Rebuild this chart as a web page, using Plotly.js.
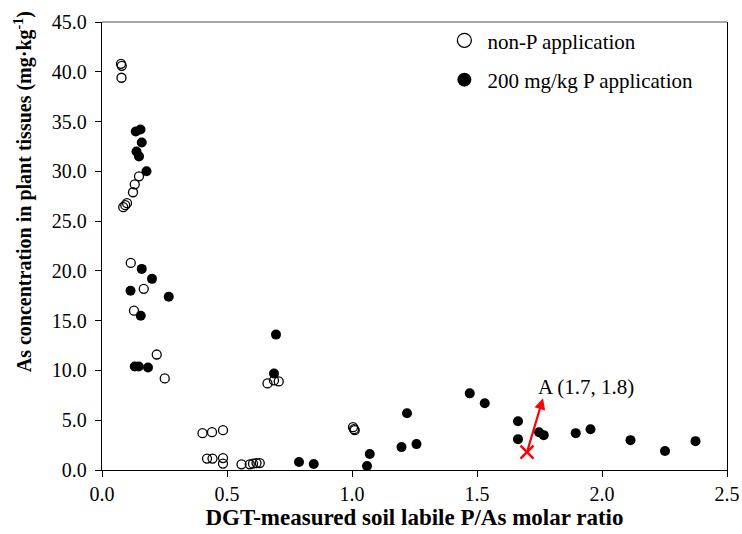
<!DOCTYPE html>
<html>
<head>
<meta charset="utf-8">
<script src="https://cdn.plot.ly/plotly-3.0.1.min.js"></script>
<style>html,body{margin:0;padding:0;background:#fff;}#chart{width:742px;height:534px;}</style>
</head>
<body>
<div id="chart"></div>
<script>
// non-P application (open circles)
var nonP_x = [0.076,0.079,0.078, 0.148,0.131,0.124, 0.085,0.093,0.100, 0.115,0.167,0.128,0.219,0.251,
              0.662,0.688,0.707, 0.402,0.440,0.484, 0.420,0.442,0.484,0.484,
              0.558,0.591,0.604,0.618,0.631, 1.004,1.008,1.011];
var nonP_y = [40.8,40.6,39.4, 29.5,28.7,27.9, 26.4,26.6,26.8, 20.8,18.2,16.0,11.6,9.2,
              8.7,9.0,8.9, 3.7,3.8,4.0, 1.15,1.15,1.2,0.65,
              0.57,0.57,0.64,0.7,0.7, 4.3,4.1,4.0];
// 200 mg/kg P application (filled circles)
var p200_x = [0.135,0.154,0.159,0.138,0.148,0.178, 0.159,0.200,0.114,0.267,0.155,
              0.131,0.147,0.184, 0.696,0.688, 0.788,0.847, 1.071,1.060,
              1.220,1.198,1.258, 1.471,1.531, 1.664,1.664,1.748,1.767,
              1.895,1.954, 2.114,2.252,2.374];
var p200_y = [34.0,34.2,32.9,32.0,31.5,30.0, 20.2,19.2,18.0,17.4,15.5,
              10.4,10.4,10.3, 13.6,9.7, 0.8,0.6, 1.6,0.4,
              5.7,2.3,2.6, 7.7,6.7, 4.9,3.1,3.8,3.5,
              3.7,4.1, 3.0,1.9,2.9];
// highlighted point A and its arrow tip
var pointA_x = [1.7];
var pointA_y = [1.8];
var arrowTip_x = 1.764;
var arrowTip_y = 7.2;
var pointA_label = 'A (1.7, 1.8)';

var seriesNames = ['non-P application', '200 mg/kg P application'];
var xTickVals = [0, 0.5, 1.0, 1.5, 2.0, 2.5];
var yTickVals = [0, 5, 10, 15, 20, 25, 30, 35, 40, 45];

var serif = "'Liberation Serif', 'Times New Roman', serif";

var traces = [
  {x: nonP_x, y: nonP_y, type: 'scatter', mode: 'markers', showlegend: false, cliponaxis: false,
   marker: {symbol: 'circle-open', size: 9, color: '#000', line: {width: 1.3, color: '#000'}}},
  {x: p200_x, y: p200_y, type: 'scatter', mode: 'markers', showlegend: false, cliponaxis: false,
   marker: {symbol: 'circle', size: 10, color: '#000'}},
  {x: pointA_x, y: pointA_y, type: 'scatter', mode: 'markers', showlegend: false,
   marker: {symbol: 'x-thin', size: 13, line: {width: 2.4, color: '#ff0000'}}},
  // legend entries
  {x: [null], y: [null], type: 'scatter', mode: 'markers', name: seriesNames[0], legendgroup: 'a',
   marker: {symbol: 'circle', size: 14, color: '#fff', line: {width: 1.3, color: '#000'}}},
  {x: [null], y: [null], type: 'scatter', mode: 'markers', name: seriesNames[1], legendgroup: 'b',
   marker: {symbol: 'circle', size: 14, color: '#000'}}
];

var layout = {
  width: 742, height: 534,
  margin: {l: 102, r: 15, t: 22, b: 64},
  paper_bgcolor: '#fff', plot_bgcolor: '#fff',
  font: {family: serif, size: 20, color: '#000'},
  showlegend: true,
  legend: {x: 0.543, y: 1.004, xanchor: 'left', yanchor: 'top', bgcolor: 'rgba(0,0,0,0)',
           itemwidth: 36,
           font: {family: serif, size: 21, color: '#000'}, traceorder: 'grouped', tracegroupgap: 9},
  xaxis: {range: [0, 2.5], tickvals: xTickVals, tickformat: '.1f', showgrid: false, zeroline: false,
          showline: true, linecolor: '#000', linewidth: 1.3, ticks: 'outside', ticklen: 6, tickcolor: '#000',
          tickfont: {family: serif, size: 20},
          title: {text: 'DGT-measured soil labile P/As molar ratio', standoff: 1,
                  font: {family: serif, size: 23, weight: 'bold'}}},
  yaxis: {range: [0, 45], tickvals: yTickVals, tickformat: '.1f', showgrid: false, zeroline: false,
          showline: true, mirror: true, linecolor: '#000', linewidth: 1.3, ticks: 'outside', ticklen: 6, tickcolor: '#000',
          ticklabelstandoff: 4,
          tickfont: {family: serif, size: 20}},
  shapes: [
    {type: 'line', xref: 'paper', yref: 'paper', x0: 0, x1: 1, y0: 1, y1: 1, line: {color: '#888', width: 1.5}}
  ],
  annotations: [
    {xref: 'paper', yref: 'paper', x: -0.1264, y: 0.62, xanchor: 'center', yanchor: 'middle',
     textangle: -90, showarrow: false,
     text: '<b>As concentration in plant tissues (mg·kg<sup>-1</sup>)</b>',
     font: {family: serif, size: 20, color: '#000'}},
    {x: arrowTip_x, y: arrowTip_y, xref: 'x', yref: 'y', ax: pointA_x[0], ay: pointA_y[0], axref: 'x', ayref: 'y',
     text: '', showarrow: true, arrowhead: 2, arrowsize: 1, arrowwidth: 2.2, arrowcolor: '#ff0000', standoff: 0},
    {x: 1.735, y: 8.3, xref: 'x', yref: 'y', xanchor: 'left', yanchor: 'middle', showarrow: false,
     text: pointA_label, font: {family: serif, size: 21, color: '#000'}}
  ]
};

Plotly.newPlot('chart', traces, layout, {displayModeBar: false, staticPlot: true});
</script>
</body>
</html>
